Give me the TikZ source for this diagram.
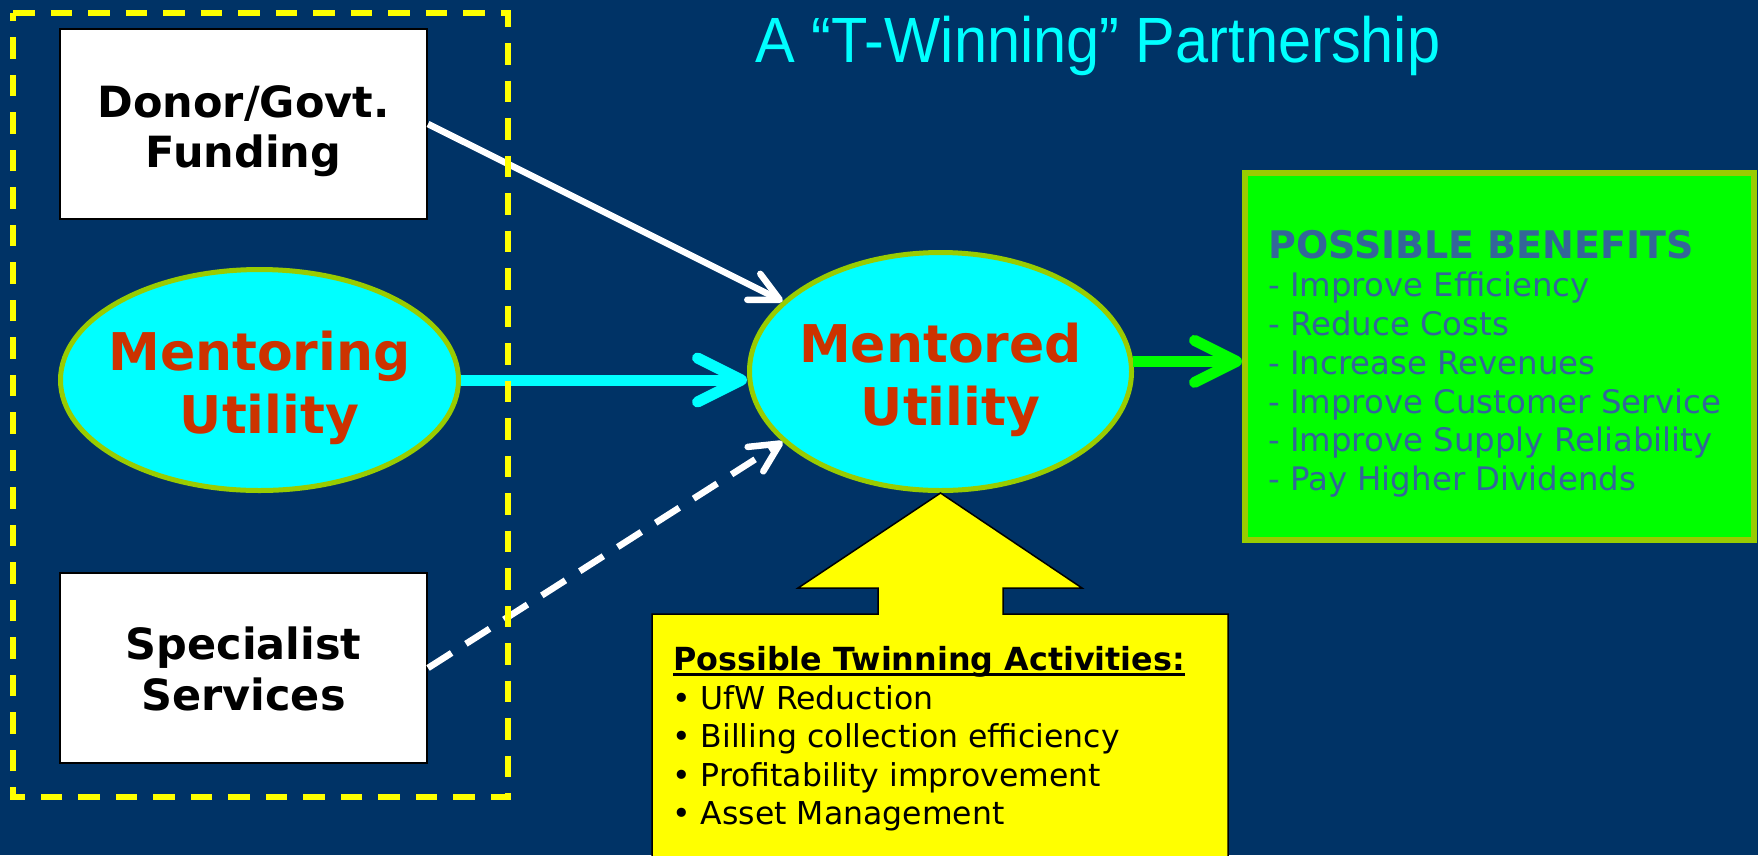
\documentclass[tikz,border=0pt]{standalone}
\usepackage{fontspec}
\setmainfont{DejaVu Sans}
\newfontfamily\titlefont{Liberation Sans}
\usetikzlibrary{arrows.meta,shapes.geometric}
\definecolor{navy}{HTML}{003366}
\definecolor{cyanfill}{HTML}{00FFFF}
\definecolor{olivegreen}{HTML}{99CC00}
\definecolor{utilred}{HTML}{CC3300}
\definecolor{benefitblue}{HTML}{336699}
\definecolor{brightgreen}{HTML}{00FF00}
\definecolor{yel}{HTML}{FFFF00}
\begin{document}
\begin{tikzpicture}[x=1pt,y=-1pt,
  whitebox/.style={draw=black, line width=2pt, fill=white, minimum width=367pt, minimum height=190pt, inner sep=0pt},
  boxtxt/.style={anchor=base, inner sep=0pt, font=\fontsize{43}{50}\selectfont\bfseries, text=black},
  utilshape/.style={ellipse, draw=olivegreen, line width=5pt, fill=cyanfill, inner sep=0pt},
  utiltxt/.style={anchor=base, inner sep=0pt, font=\fontsize{52}{63}\selectfont\bfseries, text=utilred},
  bentxt/.style={anchor=base west, inner sep=0pt, font=\fontsize{32.4}{38}\selectfont, text=benefitblue},
  acttxt/.style={anchor=base west, inner sep=0pt, font=\fontsize{31.5}{38}\selectfont, text=black},
  barb/.style={-{Straight Barb[round,length=#1,width=#1]}},
  flow/.style={line width=11pt},
  thinflow/.style={line width=6.5pt, white}
]
\useasboundingbox (0,0) rectangle (1758,855);
\clip (0,0) rectangle (1758,855);
\fill[navy] (0,0) rectangle (1758,855);

% title
\node[anchor=base, inner sep=0pt, text=cyanfill, font=\titlefont\fontsize{64}{70}\selectfont] (title) at (1098,62)
  {\scalebox{0.93}[1]{A “T-Winning” Partnership}};

% left boxes
\node[whitebox] (donor) at (243.5,124) {};
\node[boxtxt] (donor1) at (243.5,117) {Donor/Govt.};
\node[boxtxt] (donor2) at (243.5,167) {Funding};

\node[whitebox] (special) at (243.5,668) {};
\node[boxtxt] (special1) at (243.5,659) {Specialist};
\node[boxtxt] (special2) at (243.5,710) {Services};

% ellipses
\node[utilshape, minimum width=398pt, minimum height=221pt] (mentoring) at (259.5,380) {};
\node[utilshape, minimum width=382pt, minimum height=238pt] (mentored) at (940.5,371.5) {};

% benefits box
\node[draw=olivegreen, fill=brightgreen, line width=6pt, minimum width=509pt, minimum height=367pt, inner sep=0pt] (benefits) at (1499.5,356.5) {};

% connectors
\draw[thinflow, barb=29pt] (donor.east) -- (mentored.156);
\draw[thinflow, dash pattern=on 28pt off 17pt, barb=29pt] (special.east) -- (mentored.204);
\draw[flow, cyanfill, barb=44pt] (mentoring.east) -- (mentoring.east -| mentored.west);
\draw[flow, brightgreen, barb=42pt] (mentored.3) -- (mentored.3 -| benefits.west);

% dashed group box
\draw[yel, line width=6pt, dash pattern=on 21.5pt off 16pt] (13,13) -- (508,13) -- (508,797) -- (13,797) -- cycle;

% callout
\draw[black, line width=1.5pt, fill=yel, line join=miter] (mentored.south) -- (1082,588) -- (1003,588) -- (1003,614) -- (1228,614) -- (1228,870) -- (652,870) -- (652,614) -- (878,614) -- (878,588) -- (798,588) -- cycle;

% ellipse texts
\node[utiltxt] (mentoring1) at (259.5,370) {Mentoring};
\node[utiltxt] (mentoring2) at (269.5,433) {Utility};
\node[utiltxt] (mentored1) at (940.5,362) {Mentored};
\node[utiltxt] (mentored2) at (950.5,425) {Utility};

% benefits text
\node[anchor=base west, inner sep=0pt, font=\fontsize{38}{40}\selectfont\bfseries, text=benefitblue] (benhead) at (1268,258) {POSSIBLE BENEFITS};
\node[bentxt] (ben1) at (1268,296) {- Improve Efficiency};
\node[bentxt] (ben2) at (1268,335) {- Reduce Costs};
\node[bentxt] (ben3) at (1268,374) {- Increase Revenues};
\node[bentxt] (ben4) at (1268,413) {- Improve Customer Service};
\node[bentxt] (ben5) at (1268,451) {- Improve Supply Reliability};
\node[bentxt] (ben6) at (1268,490) {- Pay Higher Dividends};

% activities text
\node[anchor=base west, inner sep=0pt, font=\fontsize{31.8}{38}\selectfont\bfseries, text=black] (acthead) at (673,670) {Possible Twinning Activities:};
\draw[black, line width=3pt] ([yshift=-4pt]acthead.base west) -- ([yshift=-4pt]acthead.base east);
\node[acttxt] (act1) at (672,709) {• UfW Reduction};
\node[acttxt] (act2) at (672,747) {• Billing collection efficiency};
\node[acttxt] (act3) at (672,786) {• Profitability improvement};
\node[acttxt] (act4) at (672,824) {• Asset Management};
\end{tikzpicture}
\end{document}
